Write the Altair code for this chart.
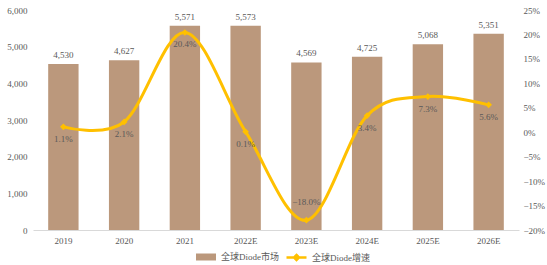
import altair as alt
import pandas as pd

years = ["2019", "2020", "2021", "2022E", "2023E", "2024E", "2025E", "2026E"]
market = [4530, 4627, 5571, 5573, 4569, 4725, 5068, 5351]
growth = [0.011, 0.021, 0.204, 0.001, -0.180, 0.034, 0.073, 0.056]

BAR = "#BB987C"
GOLD = "#FFC000"
TXT = "#595959"
FONT = "Liberation Serif, Noto Sans CJK SC"

df = pd.DataFrame({"year": years, "market": market, "growth": growth})
df["s1"] = "全球Diode市场"
df["s2"] = "全球Diode增速"

x = alt.X("year:N", sort=years, title=None,
          scale=alt.Scale(paddingInner=0.5, paddingOuter=0.25),
          axis=alt.Axis(labelAngle=0, ticks=False, domainColor="#D9D9D9",
                        labelColor=TXT, labelFont=FONT, labelFontSize=9, labelPadding=6))
xs = alt.X("year:N", sort=years, title=None)

yl = alt.Y("market:Q", title=None, scale=alt.Scale(domain=[0, 6000]),
           axis=alt.Axis(values=[0, 1000, 2000, 3000, 4000, 5000, 6000],
                         labelExpr="format(datum.value, ',')",
                         grid=False, domain=False, ticks=False, labelColor=TXT,
                         labelFont=FONT, labelFontSize=9, labelPadding=6))
yr = alt.Y("growth:Q", title=None, scale=alt.Scale(domain=[-0.2, 0.25]),
           axis=alt.Axis(orient="right", values=[-0.2, -0.15, -0.1, -0.05, 0, 0.05, 0.1, 0.15, 0.2, 0.25],
                         labelExpr="format(datum.value, '.0%')",
                         grid=False, domain=False, ticks=False, labelColor=TXT,
                         labelFont=FONT, labelFontSize=9, labelPadding=4))

base = alt.Chart(df)

bars = base.mark_bar(color=BAR).encode(
    x=x,
    y=yl,
    color=alt.Color("s1:N", title=None,
                    scale=alt.Scale(domain=["全球Diode市场"], range=[BAR]),
                    legend=alt.Legend(orient="none", legendX=162, legendY=236,
                                      symbolType="M-1,-0.35H1V0.35H-1Z", symbolSize=400,
                                      labelFont=FONT, labelFontSize=9, labelColor=TXT)),
)
bar_text = base.mark_text(baseline="bottom", dy=-4, color=TXT, font=FONT, fontSize=9).encode(
    x=xs,
    y=yl,
    text=alt.Text("market:Q", format=","),
)
left = alt.layer(bars, bar_text)

line = base.mark_line(color=GOLD, strokeWidth=3, interpolate="cardinal").encode(
    x=xs,
    y=yr,
    stroke=alt.Stroke("s2:N", title=None,
                      scale=alt.Scale(domain=["全球Diode增速"], range=[GOLD]),
                      legend=alt.Legend(orient="none", legendX=252, legendY=236,
                                        symbolType="M-1,0L1,0M0,-0.25L0.25,0L0,0.25L-0.25,0Z",
                                        symbolSize=400, symbolStrokeWidth=2.5,
                                        symbolFillColor=GOLD,
                                        labelFont=FONT, labelFontSize=9, labelColor=TXT)),
)
pts = base.mark_point(shape="diamond", filled=True, color=GOLD, size=45, opacity=1).encode(
    x=xs,
    y=yr,
)
lab_below = base.transform_filter("datum.growth > -0.1").mark_text(
    baseline="middle", dy=12, color=TXT, font=FONT, fontSize=9).encode(
    x=xs,
    y=yr,
    text=alt.Text("growth:Q", format=".1%"),
)
lab_above = base.transform_filter("datum.growth <= -0.1").mark_text(
    baseline="middle", dy=-18, color=TXT, font=FONT, fontSize=9).encode(
    x=xs,
    y=yr,
    text=alt.Text("growth:Q", format=".1%"),
)
right = alt.layer(line, pts, lab_below, lab_above)

chart = alt.layer(left, right).resolve_scale(
    y="independent", color="independent", stroke="independent"
).properties(
    width=486, height=220,
    background="white",
    autosize=alt.AutoSizeParams(type="none"),
    padding={"left": 33, "top": 10, "right": 28, "bottom": 35},
).configure_view(stroke=None)

chart.save("out.html", embed_options={"renderer": "svg", "actions": False})
